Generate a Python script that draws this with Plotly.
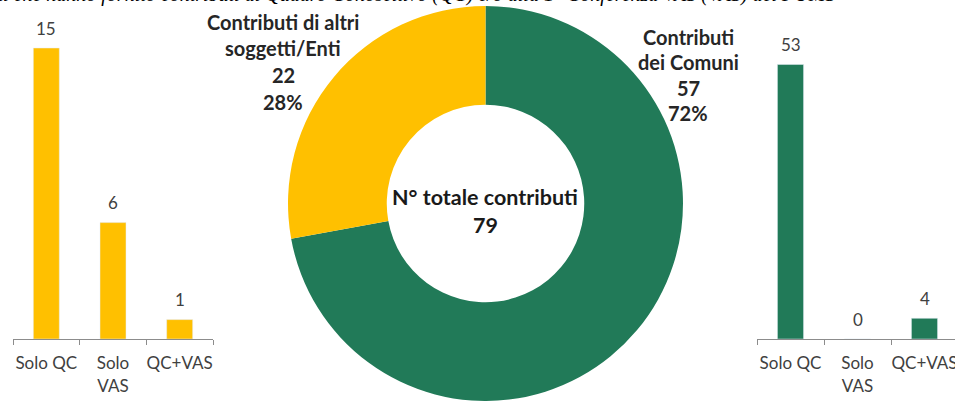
import plotly.graph_objects as go

# ---- data ----
categories = ["Solo QC", "Solo<br>VAS", "QC+VAS"]
altri_values = [15, 6, 1]
comuni_values = [53, 0, 4]
pie_labels = ["Contributi<br>dei Comuni", "Contributi di altri<br>soggetti/Enti"]
pie_values = [57, 22]
center_title = "N° totale contributi"
title_text = ("Comuni ed Enti che hanno fornito contributi al Quadro Conoscitivo (QC) "
              "e/o alla 1° Conferenza VAS (VAS) del PUMS")

GREEN = "#217A58"
YELLOW = "#FFC000"
W, H = 955, 401
FONT = "Lato"

fig = go.Figure()

# left bar chart (altri soggetti/Enti)
fig.add_trace(go.Bar(x=categories, y=altri_values, marker_color=YELLOW,
                     xaxis="x", yaxis="y", showlegend=False, hoverinfo="skip"))
# right bar chart (Comuni)
fig.add_trace(go.Bar(x=categories, y=comuni_values, marker_color=GREEN,
                     xaxis="x2", yaxis="y2", showlegend=False, hoverinfo="skip"))

# donut
fig.add_trace(go.Pie(values=pie_values, labels=pie_labels, hole=0.5, sort=False,
                     direction="clockwise", rotation=0, textinfo="none",
                     marker=dict(colors=[GREEN, YELLOW], line=dict(width=0)),
                     domain=dict(x=[287 / W, 684 / W], y=[0, 0.985]),
                     showlegend=False, hoverinfo="skip"))

axis_y0 = 1 - 339 / H
common_x = dict(type="category", showgrid=False, showline=True, linecolor="#8C8C8C",
                linewidth=1, ticks="outside", tickson="boundaries", ticklen=5,
                tickcolor="#8C8C8C", tickangle=0, automargin=False, ticklabelstandoff=9,
                tickfont=dict(family=FONT, size=17, color="#404040"),
                fixedrange=True)
common_y = dict(showgrid=False, showline=False, showticklabels=False, zeroline=False,
                ticks="", automargin=False, fixedrange=True)

fig.update_layout(
    width=W, height=H, margin=dict(l=0, r=0, t=0, b=0, autoexpand=False),
    paper_bgcolor="white", plot_bgcolor="white", bargap=0.61,
    xaxis=dict(domain=[13 / W, 213 / W], range=[-0.5, 2.5], anchor="y", **common_x),
    yaxis=dict(domain=[axis_y0, 1], range=[0, 339 / 19.4], anchor="x", **common_y),
    xaxis2=dict(domain=[757 / W, 1.0], range=[-0.5, -0.5 + 198 / 67], anchor="y2", **common_x),
    yaxis2=dict(domain=[axis_y0, 1], range=[0, 339 / 5.18], anchor="x2", **common_y),
)

annotations = []
# bar value labels
for xa, ya, vals in (("x", "y", altri_values), ("x2", "y2", comuni_values)):
    for c, v in zip(categories, vals):
        annotations.append(dict(x=c, y=v, xref=xa, yref=ya, text=str(v), showarrow=False,
                                yanchor="middle", yshift=20,
                                font=dict(family=FONT, size=17, color="#404040")))

total = sum(pie_values)


def add_lines(lines, cx, ys, size, color="#262626"):
    for line, yy in zip(lines, ys):
        annotations.append(dict(x=cx / W, y=1 - yy / H, xref="paper", yref="paper",
                                text="<b>%s</b>" % line, showarrow=False,
                                xanchor="center", yanchor="middle",
                                font=dict(family=FONT, size=size, color=color)))


# pie labels
for lab, val, cx, ys in ((pie_labels[0], pie_values[0], 688, [37, 62, 88, 113]),
                         (pie_labels[1], pie_values[1], 283, [22, 48, 75, 102])):
    pct = "%d%%" % round(100 * val / total)
    lines = lab.split("<br>") + [str(val), pct]
    add_lines(lines, cx, ys, 20)

# center text
add_lines([center_title, str(total)], 485, [197, 225], 21.5, "#1a1a1a")

# cut-off title at top
annotations.append(dict(x=837 / W, y=1, xref="paper", yref="paper",
                        text="<i>%s</i>" % title_text, showarrow=False,
                        xanchor="right", yanchor="bottom", yshift=-8,
                        font=dict(family="Liberation Serif", size=20, color="#000000")))

fig.update_layout(annotations=annotations)
fig.write_html("out.html", config={"displayModeBar": False},
               post_script="document.body.style.margin='0';document.body.style.overflow='hidden';")
